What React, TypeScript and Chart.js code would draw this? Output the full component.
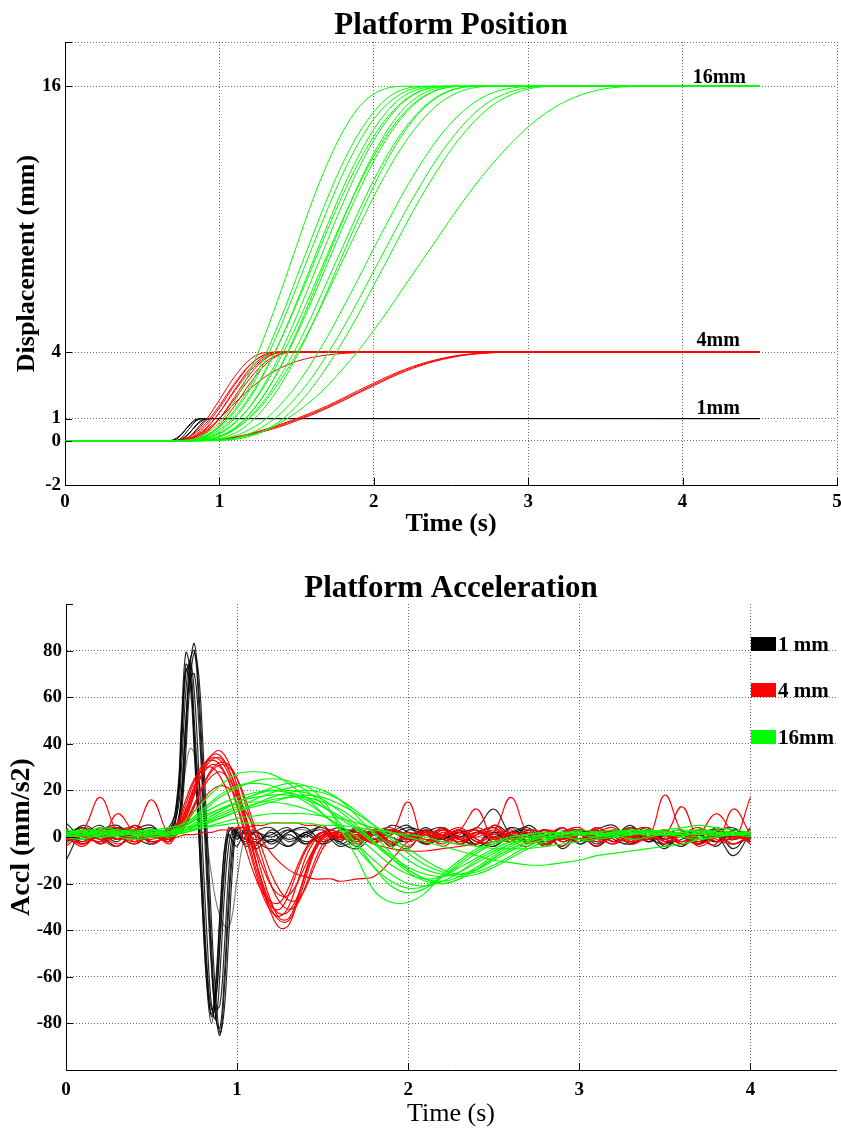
import React, { useEffect, useRef } from "react";
import { Chart, registerables } from "chart.js";
Chart.register(...registerables);

const FONT = "'Liberation Serif', 'Times New Roman', Times, serif";

// ---------------- Platform Position (top) ----------------
const posTime = [0, 0.7, 0.8, 0.9, 1.0, 1.1, 1.2, 1.3, 1.4, 1.5, 1.6, 1.7, 1.8, 1.9, 2.0, 2.1, 2.2, 2.3, 2.4, 2.5, 2.6, 2.7, 2.8, 3.0, 3.2, 3.4, 3.6, 3.8, 4.5];
const posTimeBlack = [0, 0.65, 0.7, 0.75, 0.8, 0.85, 0.9, 0.95, 1.0, 4.5];

const pos1mmA = [0, 0, 0.01, 0.24, 0.68, 0.97, 1, 1, 1, 1];
const pos1mmB = [0, 0, 0, 0.10, 0.5, 0.9, 1, 1, 1, 1];
const pos1mmC = [0, 0, 0, 0.02, 0.29, 0.72, 0.98, 1, 1, 1];
const pos1mmD = [0, 0, 0, 0.06, 0.32, 0.68, 0.94, 1, 1, 1];
const pos1mmE = [0, 0, 0, 0, 0.13, 0.5, 0.87, 1, 1, 1];
const pos1mmF = [0, 0, 0.04, 0.27, 0.64, 0.93, 1, 1, 1, 1];

const pos4mmA = [0, 0, 0.17, 0.81, 1.84, 2.91, 3.68, 3.98, 4, 4, 4, 4, 4, 4, 4, 4, 4, 4, 4, 4, 4, 4, 4, 4, 4, 4, 4, 4, 4];
const pos4mmB = [0, 0, 0.09, 0.59, 1.48, 2.53, 3.42, 3.90, 4, 4, 4, 4, 4, 4, 4, 4, 4, 4, 4, 4, 4, 4, 4, 4, 4, 4, 4, 4, 4];
const pos4mmC = [0, 0, 0.05, 0.44, 1.27, 2.32, 3.27, 3.84, 4, 4, 4, 4, 4, 4, 4, 4, 4, 4, 4, 4, 4, 4, 4, 4, 4, 4, 4, 4, 4];
const pos4mmD = [0, 0, 0.08, 0.49, 1.27, 2.25, 3.16, 3.77, 3.99, 4, 4, 4, 4, 4, 4, 4, 4, 4, 4, 4, 4, 4, 4, 4, 4, 4, 4, 4, 4];
const pos4mmE = [0, 0, 0.01, 0.28, 0.99, 2.0, 3.01, 3.72, 3.98, 4, 4, 4, 4, 4, 4, 4, 4, 4, 4, 4, 4, 4, 4, 4, 4, 4, 4, 4, 4];
const pos4mmF = [0, 0, 0.04, 0.34, 0.99, 1.90, 2.83, 3.56, 3.93, 4, 4, 4, 4, 4, 4, 4, 4, 4, 4, 4, 4, 4, 4, 4, 4, 4, 4, 4, 4];
const pos4mmG = [0, 0, 0, 0.15, 0.69, 1.59, 2.61, 3.45, 3.91, 4, 4, 4, 4, 4, 4, 4, 4, 4, 4, 4, 4, 4, 4, 4, 4, 4, 4, 4, 4];
const pos4mmH = [0, 0, 0.15, 0.69, 1.59, 2.61, 3.45, 3.91, 4, 4, 4, 4, 4, 4, 4, 4, 4, 4, 4, 4, 4, 4, 4, 4, 4, 4, 4, 4, 4];
const pos4mmI = [0, 0, 0.08, 0.4, 1.0, 1.7, 2.35, 2.9, 3.3, 3.58, 3.76, 3.87, 3.94, 3.98, 4, 4, 4, 4, 4, 4, 4, 4, 4, 4, 4, 4, 4, 4, 4];
const pos4mmJ = [0, 0, 0, 0.02, 0.07, 0.17, 0.32, 0.52, 0.75, 1.0, 1.28, 1.58, 1.92, 2.27, 2.6, 2.93, 3.22, 3.46, 3.65, 3.8, 3.9, 3.96, 4.0, 4, 4, 4, 4, 4, 4];
const pos4mmK = [0, 0, 0, 0, 0.05, 0.13, 0.26, 0.44, 0.65, 0.9, 1.17, 1.47, 1.8, 2.15, 2.48, 2.82, 3.12, 3.38, 3.59, 3.75, 3.87, 3.94, 3.98, 4, 4, 4, 4, 4, 4];
const pos4mmL = [0, 0, 0, 0.01, 0.06, 0.15, 0.29, 0.48, 0.7, 0.95, 1.22, 1.52, 1.86, 2.2, 2.54, 2.87, 3.17, 3.42, 3.62, 3.78, 3.88, 3.95, 3.99, 4, 4, 4, 4, 4, 4];

const pos16mmA = [0, 0, 0.03, 0.27, 0.82, 1.79, 3.16, 4.86, 6.78, 8.80, 10.79, 12.52, 13.96, 15.03, 15.66, 15.94, 16, 16, 16, 16, 16, 16, 16, 16, 16, 16, 16, 16, 16];
const pos16mmB = [0, 0, 0.02, 0.20, 0.65, 1.41, 2.50, 3.92, 5.56, 7.37, 9.19, 10.96, 12.54, 13.85, 14.85, 15.54, 15.88, 15.99, 16, 16, 16, 16, 16, 16, 16, 16, 16, 16, 16];
const pos16mmC = [0, 0, 0.01, 0.11, 0.41, 1.02, 1.94, 3.16, 4.60, 6.25, 8.0, 9.75, 11.40, 12.84, 14.06, 14.98, 15.59, 15.89, 15.99, 16, 16, 16, 16, 16, 16, 16, 16, 16, 16];
const pos16mmD = [0, 0, 0.02, 0.15, 0.50, 1.12, 2.04, 3.21, 4.60, 6.16, 7.82, 9.52, 11.11, 12.54, 13.75, 14.70, 15.38, 15.79, 15.97, 16, 16, 16, 16, 16, 16, 16, 16, 16, 16];
const pos16mmE = [0, 0, 0, 0.07, 0.30, 0.79, 1.57, 2.66, 4.02, 5.62, 7.31, 9.04, 10.73, 12.26, 13.56, 14.59, 15.33, 15.77, 15.96, 16, 16, 16, 16, 16, 16, 16, 16, 16, 16];
const pos16mmF = [0, 0, 0.01, 0.09, 0.34, 0.82, 1.56, 2.55, 3.79, 5.21, 6.78, 8.42, 10.01, 11.50, 12.84, 13.96, 14.84, 15.45, 15.81, 15.97, 16, 16, 16, 16, 16, 16, 16, 16, 16];
const pos16mmG = [0, 0, 0, 0.03, 0.20, 0.60, 1.25, 2.19, 3.37, 4.78, 6.34, 8.0, 9.66, 11.22, 12.63, 13.81, 14.75, 15.40, 15.80, 15.97, 16, 16, 16, 16, 16, 16, 16, 16, 16];
const pos16mmH = [0, 0, 0, 0.03, 0.17, 0.51, 1.09, 1.91, 2.98, 4.23, 5.67, 7.23, 8.77, 10.33, 11.77, 13.04, 14.09, 14.91, 15.49, 15.83, 15.98, 16, 16, 16, 16, 16, 16, 16, 16];
const pos16mmI = [0, 0, 0, 0.01, 0.09, 0.34, 0.82, 1.56, 2.55, 3.79, 5.21, 6.78, 8.42, 10.01, 11.50, 12.84, 13.96, 14.84, 15.45, 15.81, 15.97, 16, 16, 16, 16, 16, 16, 16, 16];
const pos16mmJ = [0, 0, 0, 0.04, 0.19, 0.51, 1.05, 1.79, 2.77, 3.92, 5.24, 6.66, 8.15, 9.61, 11.03, 12.32, 13.45, 14.37, 15.09, 15.57, 15.86, 15.98, 16, 16, 16, 16, 16, 16, 16];
const pos16mmK = [0, 0, 0.02, 0.18, 0.60, 1.31, 2.34, 3.65, 5.21, 6.93, 8.71, 10.45, 12.06, 13.43, 14.52, 15.28, 15.75, 15.96, 16, 16, 16, 16, 16, 16, 16, 16, 16, 16, 16];
const pos16mmL = [0, 0, 0, 0.02, 0.17, 0.55, 1.22, 2.17, 3.41, 4.89, 6.54, 8.27, 9.95, 11.56, 12.97, 14.15, 15.04, 15.60, 15.90, 15.99, 16, 16, 16, 16, 16, 16, 16, 16, 16];
const pos16mmM = [0, 0, 0, 0.01, 0.06, 0.22, 0.52, 0.98, 1.66, 2.51, 3.55, 4.70, 5.99, 7.31, 8.69, 10.01, 11.30, 12.45, 13.49, 14.34, 15.00, 15.48, 15.78, 15.99, 16, 16, 16, 16, 16];
const pos16mmN = [0, 0, 0, 0, 0.02, 0.11, 0.33, 0.71, 1.25, 1.98, 2.86, 3.92, 5.07, 6.34, 7.67, 8.98, 10.30, 11.50, 12.63, 13.60, 14.43, 15.07, 15.51, 15.94, 16, 16, 16, 16, 16];
const pos16mmO = [0, 0, 0, 0, 0.01, 0.06, 0.20, 0.49, 0.93, 1.57, 2.39, 3.37, 4.49, 5.70, 7.02, 8.33, 9.66, 10.93, 12.08, 13.14, 14.02, 14.75, 15.29, 15.88, 16, 16, 16, 16, 16];
const pos16mmP = [0, 0, 0, 0, 0.02, 0.10, 0.26, 0.46, 0.83, 1.28, 1.83, 2.48, 3.25, 4.07, 4.99, 5.96, 6.99, 8.0, 9.01, 10.04, 11.01, 11.93, 12.75, 14.17, 15.17, 15.74, 15.97, 16, 16];

const posXTicks = [0, 1, 2, 3, 4, 5];
const posYTicks = [-2, 0, 1, 4, 16, 18];
const posLabels = ["16mm", "4mm", "1mm"];

// ---------------- Platform Acceleration (bottom) ----------------
const accTimeBlack = [0, 0.1, 0.2, 0.3, 0.4, 0.5, 0.6, 0.65, 0.675, 0.7, 0.725, 0.75, 0.775, 0.8, 0.825, 0.85, 0.875, 0.9, 0.925, 0.95, 0.975, 1.0, 1.05, 1.1, 1.2, 1.3, 1.4, 1.5, 1.6, 1.7, 1.8, 1.9, 2.0, 2.1, 2.2, 2.3, 2.4, 2.5, 2.6, 2.7, 2.8, 2.9, 3.0, 3.1, 3.2, 3.3, 3.4, 3.5, 3.6, 3.7, 3.8, 3.9, 4.0];
const acc1mmA = [3, -2, 4, 1, -3, 2, 1, 14, 42, 74, 70, 44, 10, -28, -60, -77, -70, -42, -12, 2, 4, 1, -2, 3, -3, 2, 4, -2, 1, -4, 3, 0, -2, 4, -1, 2, -3, 5, 1, -2, 3, -1, 2, -4, 1, 3, -2, 2, 0, -3, 4, -1, 2];
const acc1mmB = [1, 4, -1, 3, 2, -2, 2, 18, 50, 79, 72, 40, 4, -35, -66, -80, -66, -35, -6, 4, 2, -1, 2, -3, 2, -4, 1, 3, -2, 4, -1, 2, 5, -3, 0, 3, -1, -4, 2, 1, -2, 4, -3, 1, 2, -1, 3, -4, 2, 1, -2, 3, 0];
const acc1mmC = [-2, 1, 5, -1, 2, 4, 0, 4, 14, 42, 73, 83, 64, 30, -8, -46, -76, -85, -66, -32, -6, 3, 4, 1, -2, 3, 0, 5, -3, 1, 2, -4, 3, 1, -2, 2, 4, 12, 1, -1, 3, -5, 1, 2, -2, 4, 0, -3, 2, 1, -4, 3, -2];
const acc1mmD = [-10, 2, -3, 4, 1, 3, -1, 6, 18, 48, 76, 80, 58, 22, -14, -52, -78, -82, -60, -26, -2, 4, 1, -4, 3, -1, 2, 4, -2, -5, 1, 3, -1, 2, 4, -3, 1, 2, -2, 5, 0, -1, 3, -3, 2, 1, 4, -2, -1, 3, 1, -8, 2];
const acc1mmE = [0, 3, 2, -2, 5, 1, 3, 10, 30, 62, 76, 62, 30, -8, -44, -72, -78, -58, -26, -4, 3, 2, -3, 2, 4, -2, 1, -3, 3, 2, -1, 5, 2, -3, 1, 0, 3, -2, 4, 1, -4, 2, 3, -1, 0, 5, -2, 1, 3, -3, 2, 0, 1];
const acc1mmF = [6, 0, 3, 5, -1, 2, 4, 16, 46, 72, 66, 36, 2, -34, -64, -76, -62, -32, -6, 2, 4, 0, 3, -1, 1, 4, -3, 2, 0, 3, -2, 1, 4, 2, -1, 3, -4, 0, 2, 4, -2, 1, -1, 3, 5, -2, 0, 2, -3, 1, 3, -5, 4];
const acc1mmG = [2, -1, 1, 4, 0, -3, 2, 5, 20, 50, 68, 70, 50, 16, -22, -56, -74, -72, -48, -16, 2, 3, -1, 2, 0, 3, -2, 1, 4, -1, 2, -3, 0, 3, 1, -2, 2, 4, -1, 0, 3, -2, 1, -4, 2, 0, 3, -1, 1, -3, 2, 4, -2];
const acc1mmH = [4, -3, 2, -1, 3, 5, -2, 12, 38, 70, 74, 50, 16, -22, -56, -74, -70, -46, -16, 1, -2, -4, 3, -5, -1, -4, 2, -3, 0, -2, 3, -4, 1, -2, 4, -1, -3, 2, 0, -2, 1, -4, 3, -1, 2, -3, 0, -5, 2, -2, 1, -3, 0];
const acc1mmI = [-1, 5, 1, -4, 2, 0, 3, 2, 10, 36, 66, 79, 70, 40, 2, -36, -68, -84, -74, -44, -12, 2, -4, -2, -5, 1, -3, 2, -4, -1, 1, -2, -5, 3, -1, 2, -2, -4, 1, 3, -3, 0, -2, 4, -1, -3, 2, -1, -4, 1, -2, 2, -1];
const acc1mmSlow = [-3, 2, 0, 3, 4, -2, 1, 5, 16, 30, 38, 36, 26, 12, -3, -16, -27, -34, -38, -39, -32, -18, 1, 3, -2, 2, 3, -1, 0, 4, -2, 2, 1, -3, 3, 0, 2, -1, 4, -2, 1, 3, -3, 2, 0, 4, -1, 1, -2, 3, 0, 2, -3];

const accTimeRed = [0, 0.1, 0.2, 0.3, 0.4, 0.5, 0.6, 0.65, 0.7, 0.75, 0.8, 0.85, 0.9, 0.95, 1.0, 1.05, 1.1, 1.15, 1.2, 1.25, 1.3, 1.35, 1.4, 1.45, 1.5, 1.55, 1.6, 1.7, 1.8, 1.9, 2.0, 2.1, 2.2, 2.3, 2.4, 2.5, 2.6, 2.7, 2.8, 2.9, 3.0, 3.1, 3.2, 3.3, 3.4, 3.5, 3.6, 3.7, 3.8, 3.9, 4.0];
const acc4mmA = [2, -3, 4, 1, -2, 3, 0, 4, 12, 22, 30, 34, 33, 27, 17, 5, -8, -20, -29, -33, -32, -26, -16, -6, 0, 2, 1, 3, -2, 1, 15, -3, 2, -1, 4, 0, -2, 3, 1, -4, 2, 0, 3, -1, 2, -3, 1, 4, -2, 0, 3];
const acc4mmB = [-1, 3, 17, 2, -3, 1, -2, 2, 8, 18, 28, 35, 37, 32, 22, 8, -7, -22, -33, -39, -38, -28, -15, -5, 1, 2, 0, -2, 3, 0, -4, 2, 1, 3, 12, -1, 2, -3, 1, 0, 2, -2, 3, 1, -1, 18, 2, -3, 1, 2, -2];
const acc4mmC = [-4, 1, -2, 10, 2, -1, 3, 6, 16, 25, 29, 30, 26, 18, 7, -5, -16, -24, -28, -28, -22, -13, -5, 0, 2, 0, -1, 1, 4, -3, 2, -1, 0, 3, -2, 2, 17, 1, -3, 2, -1, 4, 0, -2, 3, 1, 13, -1, 2, -3, 1];
const acc4mmD = [3, 0, -2, 2, 4, -3, 1, 1, 5, 13, 22, 29, 32, 31, 25, 14, 2, -10, -21, -28, -31, -29, -21, -11, -3, 1, 2, -1, 2, 4, -2, 1, -3, 2, 0, 3, -1, 2, -4, 1, 3, -2, 0, 4, -1, 2, -2, 1, 3, -1, 17];
const acc4mmE = [1, -2, 3, -1, 2, 16, 1, 3, 10, 21, 30, 35, 35, 29, 19, 6, -8, -21, -31, -36, -36, -29, -18, -7, -1, 1, 0, 2, -1, 3, 1, -2, 4, -3, 2, 0, 1, -2, 3, 1, -1, 2, 4, -2, 0, 3, -3, 1, 10, 2, -1];
const acc4mmF = [-2, 4, 1, -3, 0, 2, -1, 2, 7, 14, 21, 26, 28, 25, 18, 8, -3, -13, -21, -25, -25, -20, -12, -5, 0, 2, 1, 0, 3, -2, 1, 2, -4, 1, 3, -1, 2, 0, -3, 2, 4, -1, 1, -2, 3, 0, 2, -1, -3, 12, 1];
const acc4mmG = [0, -3, 2, 4, -1, 1, -2, 2, 6, 11, 16, 20, 22, 21, 17, 11, 4, -2, -7, -11, -14, -16, -17, -18, -18, -18, -19, -18, -17, -10, -2, 1, 3, -1, 2, 0, -2, 3, 1, -1, 2, 0, -3, 1, 2, -2, 1, 3, 0, -1, 2];
const acc4mmH = [1, 2, -3, 1, 3, 0, -1, 0, 1, 1, 2, 2, 3, 3, 4, 4, 5, 5, 6, 6, 6, 6, 5, 5, 4, 3, 2, 0, -3, -5, -6, -6, -5, -4, -3, -2, -1, 0, 2, -1, 1, 3, -2, 0, 2, 1, -3, 2, 0, 1, -2];
const acc4mmI = [-1, 2, 0, 3, -2, 1, 2, 5, 14, 24, 31, 33, 31, 24, 13, 0, -13, -25, -32, -34, -30, -20, -9, -2, 1, 1, 0, 1, -2, 3, 0, 2, -1, -3, 2, 1, 3, -2, 0, 4, -1, 1, 2, -3, 0, 2, 1, -2, 3, 0, -1];
const acc4mmJ = [2, 0, -1, -4, 3, 2, 0, 1, 6, 14, 22, 28, 31, 30, 25, 16, 5, -6, -16, -23, -27, -27, -22, -13, -5, 0, 2, -2, 1, 2, -1, 3, 0, -2, 1, 4, -1, 2, -3, 0, 1, 3, -2, 1, 0, -1, 2, -3, 1, 2, 0];
const acc4mmK = [0, -4, 2, -1, 5, -2, 1, 3, 11, 20, 27, 31, 30, 24, 14, 2, -11, -23, -30, -31, -25, -15, -6, -1, 2, 3, 1, -3, 2, -4, 1, -2, 3, 0, -3, 5, -1, -4, 2, 1, -2, 0, -3, 2, 4, -2, 1, -4, 0, 2, -3];
const acc4mmL = [3, 1, -2, 4, -1, 2, -3, 2, 9, 19, 28, 33, 34, 29, 20, 9, -4, -17, -28, -35, -35, -27, -15, -5, 0, 1, -1, 2, -3, 3, 0, -2, 1, 4, -1, -3, 2, 0, 3, -2, 1, -4, 2, 0, -1, 3, -2, 2, -1, -3, 1];

const accTimeGreen = [0, 0.1, 0.2, 0.3, 0.4, 0.5, 0.6, 0.7, 0.8, 0.9, 1.0, 1.1, 1.2, 1.3, 1.4, 1.5, 1.6, 1.7, 1.8, 1.9, 2.0, 2.1, 2.2, 2.3, 2.4, 2.5, 2.6, 2.7, 2.8, 2.9, 3.0, 3.1, 3.2, 3.3, 3.4, 3.5, 3.6, 3.7, 3.8, 3.9, 4.0];
const acc16mmA = [1, 2, 1, 2, 1, 2, 2, 7, 15, 22, 27, 28, 27, 23, 17, 10, 3, -5, -13, -19, -22, -21, -17, -12, -7, -3, 0, 1, 2, 1, 2, 1, 2, 3, 2, 1, 2, 3, 2, 1, 2];
const acc16mmB = [2, 1, 3, 2, 1, 2, 1, 3, 7, 11, 15, 18, 21, 23, 22, 16, 4, -9, -23, -28, -28, -24, -16, -10, -5, -2, 0, 1, 2, 1, 2, 1, 0, 1, 2, 1, 2, 1, 2, 1, 2];
const acc16mmC = [1, 2, 0, 1, 2, 1, 2, 4, 8, 12, 15, 17, 18, 18, 16, 13, 9, 4, -2, -8, -13, -16, -17, -15, -11, -7, -3, 0, 1, 2, 1, 2, 3, 2, 1, 2, 1, 2, 1, 2, 1];
const acc16mmD = [3, 2, 1, 2, 3, 2, 2, 5, 10, 14, 17, 19, 20, 19, 17, 13, 8, 3, -3, -9, -14, -18, -19, -17, -13, -8, -4, -1, 1, 2, 2, 1, 2, 1, 3, 2, 1, 2, 2, 1, 2];
const acc16mmE = [0, 1, 2, 1, 0, 1, 1, 3, 6, 9, 12, 14, 16, 17, 17, 15, 12, 7, 2, -4, -10, -14, -16, -16, -14, -10, -6, -3, -1, 0, 1, 2, 1, 2, 1, 2, 1, 0, 1, 2, 1];
const acc16mmF = [2, 1, 2, 3, 2, 1, 2, 3, 6, 10, 13, 16, 19, 21, 22, 20, 16, 9, 1, -7, -14, -18, -20, -18, -14, -9, -5, -2, 0, 1, 2, 1, 2, 2, 1, 2, 1, 2, 1, 1, 2];
const acc16mmG = [1, 0, 1, 2, 1, 0, 1, 2, 4, 6, 8, 9, 10, 10, 10, 9, 8, 6, 4, 2, 0, -2, -4, -6, -8, -10, -11, -12, -12, -11, -10, -8, -7, -6, -5, -4, -3, -1, 0, 1, 1];
const acc16mmH = [2, 3, 2, 1, 2, 3, 2, 3, 4, 5, 6, 6, 6, 6, 6, 5, 5, 4, 3, 2, 1, 0, -2, -3, -4, -5, -5, -5, -4, -3, -2, -1, 0, 1, 2, 3, 4, 5, 4, 3, 2];
const acc16mmI = [1, 3, 2, 1, 2, 3, 1, 5, 11, 17, 21, 24, 25, 24, 20, 14, 6, -3, -13, -21, -24, -22, -17, -11, -6, -3, -1, 0, 1, 2, 1, 2, 1, 3, 2, 1, 2, 1, 2, 1, 2];
const acc16mmJ = [0, 1, 3, 2, 1, 2, 3, 4, 6, 8, 11, 13, 15, 17, 18, 17, 14, 10, 5, 0, -5, -10, -14, -16, -15, -12, -8, -4, -1, 1, 2, 1, 2, 3, 2, 1, 2, 3, 2, 1, 2];
const acc16mmK = [2, 1, 0, 1, 2, 1, 2, 5, 9, 12, 14, 15, 15, 14, 12, 9, 5, 0, -6, -12, -16, -18, -17, -13, -9, -5, -2, 0, 1, 2, 1, 0, 1, 2, 1, 2, 3, 2, 1, 2, 1];
const acc16mmL = [1, 2, 1, 2, 1, 2, 0, 3, 7, 11, 15, 18, 20, 20, 19, 16, 11, 5, -2, -9, -15, -19, -20, -18, -14, -9, -5, -2, 0, 1, 2, 1, 2, 1, 2, 2, 1, 2, 1, 2, 1];
const acc16mmM = [3, 2, 4, 3, 2, 3, 4, 6, 12, 18, 22, 23, 22, 19, 15, 10, 4, -3, -10, -16, -20, -21, -19, -15, -10, -6, -3, -1, 0, 1, 3, 2, 1, 2, 3, 2, 1, 2, 3, 2, 1];
const acc16mmN = [0, -1, 1, 0, -1, 0, 1, 2, 5, 8, 11, 14, 17, 19, 20, 19, 16, 11, 5, -1, -7, -12, -15, -17, -16, -13, -9, -5, -2, 0, -1, 0, 1, -1, 0, 1, 0, -1, 0, 1, 0];

const accXTicks = [0, 1, 2, 3, 4];
const accYTicks = [-100, -80, -60, -40, -20, 0, 20, 40, 60, 80, 100];
const accLegend = ["1 mm", "4 mm", "16mm"];

// ---------------- helpers ----------------
const GREEN = "#00ff00";
const RED = "#ff0000";
const BLACK = "#000000";
const GRID = "rgba(0,0,0,0.6)";

function pts(xs: number[], ys: number[]) {
  const n = Math.min(xs.length, ys.length);
  const out: { x: number; y: number }[] = [];
  for (let i = 0; i < n; i++) out.push({ x: xs[i], y: ys[i] });
  return out;
}

function series(xs: number[], ys: number[], color: string, order: number, extra: any) {
  return {
    data: pts(xs, ys),
    borderColor: color,
    backgroundColor: color,
    borderWidth: 1,
    pointRadius: 0,
    fill: false,
    order,
    ...extra,
  };
}

const tickFont = { family: FONT, size: 19, weight: "bold" as const };

function inwardTicks(chart: any, len: number) {
  const { ctx, chartArea, scales } = chart;
  ctx.save();
  ctx.strokeStyle = "#000";
  ctx.lineWidth = 1;
  ctx.beginPath();
  scales.x.ticks.forEach((t: any) => {
    const px = Math.round(scales.x.getPixelForValue(t.value)) + 0.5;
    ctx.moveTo(px, chartArea.bottom);
    ctx.lineTo(px, chartArea.bottom - len);
  });
  scales.y.ticks.forEach((t: any) => {
    const py = Math.round(scales.y.getPixelForValue(t.value)) + 0.5;
    ctx.moveTo(chartArea.left, py);
    ctx.lineTo(chartArea.left + len, py);
  });
  ctx.stroke();
  ctx.restore();
}

const topDecor = {
  id: "topDecor",
  afterDraw(chart: any) {
    const { ctx, chartArea, scales } = chart;
    inwardTicks(chart, 7);
    const cx = (chartArea.left + chartArea.right) / 2;
    ctx.save();
    ctx.fillStyle = "#000";
    ctx.textBaseline = "alphabetic";
    ctx.textAlign = "center";
    ctx.font = `bold 31px ${FONT}`;
    ctx.fillText("Platform Position", cx, 34);
    ctx.font = `bold 26px ${FONT}`;
    ctx.fillText("Time (s)", cx, 531);
    ctx.textAlign = "left";
    ctx.font = `bold 20px ${FONT}`;
    const lx = [4.065, 4.09, 4.09];
    const ly = [16.17, 4.29, 1.19];
    posLabels.forEach((s, i) => {
      ctx.fillText(s, scales.x.getPixelForValue(lx[i]), scales.y.getPixelForValue(ly[i]));
    });
    ctx.save();
    ctx.translate(34, (chartArea.top + chartArea.bottom) / 2);
    ctx.rotate(-Math.PI / 2);
    ctx.textAlign = "center";
    ctx.font = `bold 26px ${FONT}`;
    ctx.fillText("Displacement (mm)", 0, 0);
    ctx.restore();
    ctx.restore();
  },
};

const bottomDecor = {
  id: "bottomDecor",
  afterDraw(chart: any) {
    const { ctx, chartArea } = chart;
    inwardTicks(chart, 7);
    const cx = (chartArea.left + chartArea.right) / 2;
    ctx.save();
    ctx.fillStyle = "#000";
    ctx.textBaseline = "alphabetic";
    ctx.textAlign = "center";
    ctx.font = `bold 31px ${FONT}`;
    ctx.fillText("Platform Acceleration", cx, 47);
    ctx.font = `26px ${FONT}`;
    ctx.fillText("Time (s)", cx, 571);
    const colors = [BLACK, RED, GREEN];
    const rowY = [94, 140, 187];
    ctx.textAlign = "left";
    ctx.font = `bold 21px ${FONT}`;
    accLegend.forEach((s, i) => {
      ctx.fillStyle = colors[i];
      ctx.fillRect(751, rowY[i] - 7, 25, 14);
      ctx.fillStyle = "#000";
      ctx.fillText(s, 778, rowY[i] + 7);
    });
    ctx.save();
    ctx.translate(29, (chartArea.top + chartArea.bottom) / 2);
    ctx.rotate(-Math.PI / 2);
    ctx.textAlign = "center";
    ctx.font = `bold 28px ${FONT}`;
    ctx.fillText("Accl (mm/s2)", 0, 0);
    ctx.restore();
    ctx.restore();
  },
};

function topConfig(): any {
  const mono = { cubicInterpolationMode: "monotone" };
  const blacks = [pos1mmA, pos1mmB, pos1mmC, pos1mmD, pos1mmE, pos1mmF].map((d) => series(posTimeBlack, d, BLACK, 3, mono));
  const reds = [pos4mmA, pos4mmB, pos4mmC, pos4mmD, pos4mmE, pos4mmF, pos4mmG, pos4mmH, pos4mmI, pos4mmJ, pos4mmK, pos4mmL].map((d) => series(posTime, d, RED, 2, mono));
  const greens = [pos16mmA, pos16mmB, pos16mmC, pos16mmD, pos16mmE, pos16mmF, pos16mmG, pos16mmH, pos16mmI, pos16mmJ, pos16mmK, pos16mmL, pos16mmM, pos16mmN, pos16mmO, pos16mmP].map((d) => series(posTime, d, GREEN, 1, mono));
  return {
    type: "line",
    data: { datasets: [...greens, ...reds, ...blacks] },
    options: {
      responsive: false,
      animation: false,
      devicePixelRatio: 1,
      layout: { padding: { top: 42, right: 4, left: 0, bottom: 0 } },
      plugins: { legend: { display: false }, tooltip: { enabled: false }, title: { display: false } },
      scales: {
        x: {
          type: "linear",
          min: 0,
          max: 5,
          afterBuildTicks: (s: any) => { s.ticks = posXTicks.map((v) => ({ value: v })); },
          afterFit: (s: any) => { s.height = 75; s.paddingLeft = 0; s.paddingRight = 0; },
          ticks: { font: tickFont, color: "#000", padding: 6, maxRotation: 0, autoSkip: false },
          grid: { color: GRID, lineWidth: 1, drawTicks: false, tickLength: 0 },
          border: { display: true, color: "#000", width: 1, dash: [1, 2] },
        },
        y: {
          type: "linear",
          min: -2,
          max: 18,
          afterBuildTicks: (s: any) => { s.ticks = posYTicks.map((v) => ({ value: v })); },
          afterFit: (s: any) => { s.width = 65; s.paddingTop = 0; s.paddingBottom = 0; },
          ticks: { font: tickFont, color: "#000", padding: 4, autoSkip: false, callback: (v: any) => (v === 18 ? "" : String(v)) },
          grid: { color: GRID, lineWidth: 1, drawTicks: false, tickLength: 0 },
          border: { display: true, color: "#000", width: 1, dash: [1, 2] },
        },
      },
    },
    plugins: [topDecor],
  };
}

function bottomConfig(): any {
  const smooth = { tension: 0.4, borderWidth: 1.15 };
  const blacks = [acc1mmA, acc1mmB, acc1mmC, acc1mmD, acc1mmE, acc1mmF, acc1mmG, acc1mmH, acc1mmI].map((d) => series(accTimeBlack, d, "rgba(0,0,0,0.85)", 3, smooth));
  blacks.push(series(accTimeBlack, acc1mmSlow, "rgba(0,0,0,0.5)", 3, smooth));
  const reds = [acc4mmA, acc4mmB, acc4mmC, acc4mmD, acc4mmE, acc4mmF, acc4mmG, acc4mmH, acc4mmI, acc4mmJ, acc4mmK, acc4mmL].map((d) => series(accTimeRed, d, RED, 2, smooth));
  const greens = [acc16mmA, acc16mmB, acc16mmC, acc16mmD, acc16mmE, acc16mmF, acc16mmG, acc16mmH, acc16mmI, acc16mmJ, acc16mmK, acc16mmL, acc16mmM, acc16mmN].map((d) => series(accTimeGreen, d, GREEN, 1, smooth));
  const hideEdge = (c: any) => (c.tick && Math.abs(c.tick.value) === 100 ? "rgba(0,0,0,0)" : GRID);
  return {
    type: "line",
    data: { datasets: [...greens, ...reds, ...blacks] },
    options: {
      responsive: false,
      animation: false,
      devicePixelRatio: 1,
      layout: { padding: { top: 54, right: 5, left: 0, bottom: 0 } },
      plugins: { legend: { display: false }, tooltip: { enabled: false }, title: { display: false } },
      scales: {
        x: {
          type: "linear",
          min: 0,
          max: 4.5,
          afterBuildTicks: (s: any) => { s.ticks = accXTicks.map((v) => ({ value: v })); },
          afterFit: (s: any) => { s.height = 61; s.paddingLeft = 0; s.paddingRight = 0; },
          ticks: { font: tickFont, color: "#000", padding: 9, maxRotation: 0, autoSkip: false },
          grid: { color: GRID, lineWidth: 1, drawTicks: false, tickLength: 0 },
          border: { display: true, color: "#000", width: 1, dash: [1, 2] },
        },
        y: {
          type: "linear",
          min: -100,
          max: 100,
          afterBuildTicks: (s: any) => { s.ticks = accYTicks.map((v) => ({ value: v })); },
          afterFit: (s: any) => { s.width = 66; s.paddingTop = 0; s.paddingBottom = 0; },
          ticks: { font: tickFont, color: "#000", padding: 4, autoSkip: false, callback: (v: any) => (Math.abs(v) === 100 ? "" : String(v)) },
          grid: { color: hideEdge, lineWidth: 1, drawTicks: false, tickLength: 0 },
          border: { display: true, color: "#000", width: 1, dash: [1, 2] },
        },
      },
    },
    plugins: [bottomDecor],
  };
}

function ChartCanvas({ make, top, height }: { make: () => any; top: number; height: number }) {
  const ref = useRef<HTMLCanvasElement>(null);
  useEffect(() => {
    const chart = new Chart(ref.current as HTMLCanvasElement, make());
    return () => chart.destroy();
  }, []);
  return (
    <canvas
      ref={ref}
      width={841}
      height={height}
      style={{ position: "absolute", left: 0, top, width: 841, height }}
    />
  );
}

export default function App() {
  return (
    <div style={{ position: "absolute", left: 0, top: 0, width: 841, height: 1131, background: "#fff" }}>
      <ChartCanvas make={topConfig} top={0} height={560} />
      <ChartCanvas make={bottomConfig} top={550} height={581} />
    </div>
  );
}
